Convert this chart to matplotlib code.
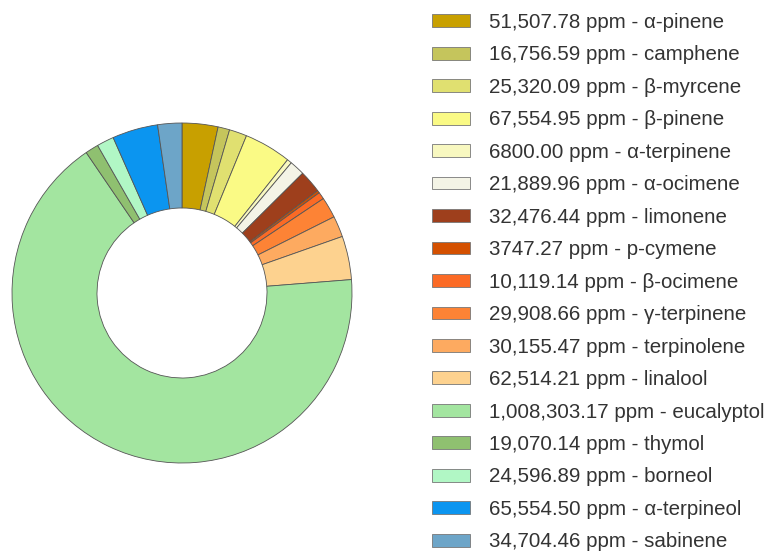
import matplotlib.pyplot as plt
from matplotlib.patches import Patch

plt.rcParams['font.family'] = ['Liberation Sans', 'DejaVu Sans']

# terpene amounts, ppm
compounds = ['α-pinene', 'camphene', 'β-myrcene', 'β-pinene', 'α-terpinene',
             'α-ocimene', 'limonene', 'p-cymene', 'β-ocimene', 'γ-terpinene',
             'terpinolene', 'linalool', 'eucalyptol', 'thymol', 'borneol',
             'α-terpineol', 'sabinene']
ppm = [51507.78, 16756.59, 25320.09, 67554.95, 6800.00,
       21889.96, 32476.44, 3747.27, 10119.14, 29908.66,
       30155.47, 62514.21, 1008303.17, 19070.14, 24596.89,
       65554.50, 34704.46]
colors = ['#c8a000', '#c5c55c', '#e0e070', '#fafa85', '#f8f8c0',
          '#f4f4e6', '#9e3f1c', '#d45000', '#fb6a25', '#fd8335',
          '#fdaa60', '#fdd28f', '#a3e5a0', '#8fc070', '#b1f7c5',
          '#0b95f0', '#6da5c8']


def fmt(v):
    # values under 10,000 are written without a thousands separator
    return f'{v:,.2f}' if v >= 10000 else f'{v:.2f}'


labels = [f'{fmt(v)} ppm - {c}' for v, c in zip(ppm, compounds)]

fig = plt.figure(figsize=(7.7, 5.55), dpi=100)
ax = fig.add_axes([12 / 770, 92 / 555, 340 / 770, 340 / 555])
ax.pie(ppm, colors=colors, startangle=90, counterclock=False, radius=1,
       wedgeprops=dict(width=0.5, edgecolor='#555555', linewidth=0.6))
ax.set_xlim(-1, 1)
ax.set_ylim(-1, 1)
ax.set_aspect('equal')

handles = [Patch(facecolor=c, edgecolor='#777777', linewidth=0.6) for c in colors]
fig.legend(handles, labels, loc='upper left',
           bbox_to_anchor=(432 / 770, 1 - 13 / 555), frameon=False,
           fontsize=14.8, handlelength=1.85, handleheight=0.58,
           handletextpad=0.92, labelspacing=0.655, borderpad=0,
           borderaxespad=0, labelcolor='#333333')

fig.savefig('out.png', dpi=100, facecolor='white')
